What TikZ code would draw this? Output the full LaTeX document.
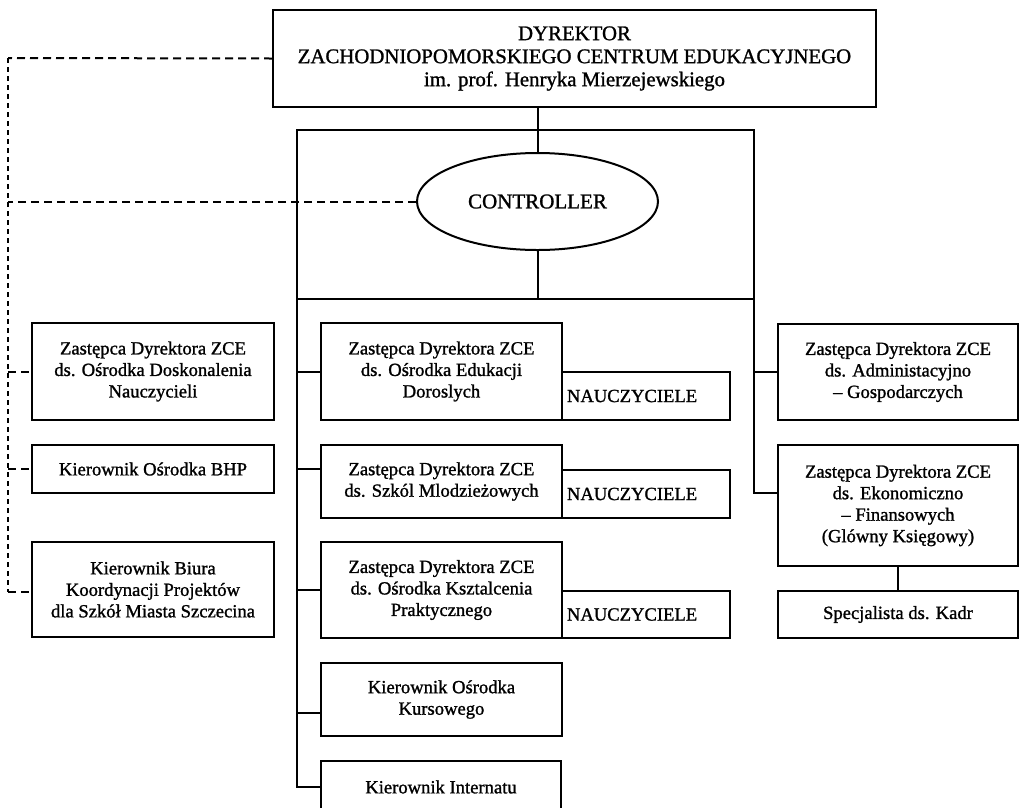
\documentclass[tikz,border=0pt]{standalone}
\usepackage{fontspec}
\setmainfont{Liberation Serif}
\newfontfamily\scanfont{Liberation Serif}[FakeBold=1.2]
\usetikzlibrary{shapes.geometric}
\begin{document}
\begin{tikzpicture}[x=1pt,y=-1pt,
  box/.style={draw, line width=2pt, align=center, inner sep=0pt,
    font=\scanfont\fontsize{18.6}{21.5}\selectfont},
  topbox/.style={box, font=\scanfont\fontsize{20.8}{23}\selectfont},
  nbox/.style={draw, line width=2pt, align=left, inner xsep=5pt, inner ysep=0pt,
    text width=158pt, minimum width=168pt,
    font=\scanfont\fontsize{18.6}{21.5}\selectfont},
  conn/.style={line width=2pt},
  dashh/.style={line width=2pt, dash pattern=on 8pt off 5pt},
  dashv/.style={line width=2pt, dash pattern=on 5pt off 4pt}]
\useasboundingbox (0,0) rectangle (1021,807);

% top
\node[topbox, minimum width=603pt, minimum height=97pt] (dyr) at (574.5,58.5)
  {DYREKTOR\\ZACHODNIOPOMORSKIEGO CENTRUM EDUKACYJNEGO\\im. prof. Henryka Mierzejewskiego};
\node[draw, ellipse, line width=2pt, minimum width=241pt, minimum height=97pt, inner sep=0pt,
  font=\scanfont\fontsize{21}{23}\selectfont] (ctrl) at (537.5,201.5) {CONTROLLER};

% frame
\coordinate (fTL) at (297,130);
\coordinate (fTR) at (754,130);
\coordinate (fBL) at (297,299);
\coordinate (fBR) at (754,299);
\draw[conn] (fTL) rectangle (fBR);

% left boxes
\node[box, minimum width=242pt, minimum height=97pt] (l1) at (153,371.5)
  {Zastępca Dyrektora ZCE\\ds. Ośrodka Doskonalenia\\Nauczycieli};
\node[box, minimum width=242pt, minimum height=48pt] (l2) at (153,469)
  {Kierownik Ośrodka BHP};
\node[box, minimum width=242pt, minimum height=95pt] (l3) at (153,589.5)
  {Kierownik Biura\\Koordynacji Projektów\\dla Szkół Miasta Szczecina};

% middle boxes
\node[box, minimum width=241pt, minimum height=97pt] (m1) at (441.5,371.5)
  {Zastępca Dyrektora ZCE\\ds. Ośrodka Edukacji\\Doroslych};
\node[box, minimum width=241pt, minimum height=73pt] (m2) at (441.5,481.5)
  {Zastępca Dyrektora ZCE\\ds. Szkól Mlodzieżowych};
\node[box, minimum width=241pt, minimum height=96pt] (m3) at (441.5,590)
  {Zastępca Dyrektora ZCE\\ds. Ośrodka Ksztalcenia\\Praktycznego};
\node[box, minimum width=241pt, minimum height=73pt] (m4) at (441.5,699.5)
  {Kierownik Ośrodka\\Kursowego};
\node[box, minimum width=240pt, minimum height=52pt] (m5) at (441,787)
  {Kierownik Internatu};

\node[nbox, minimum height=48pt] (n1) at (646,396) {NAUCZYCIELE};
\node[nbox, minimum height=48pt] (n2) at (646,494) {NAUCZYCIELE};
\node[nbox, minimum height=47pt] (n3) at (646,614.5) {NAUCZYCIELE};

% right boxes
\node[box, minimum width=240pt, minimum height=96pt] (r1) at (898,372)
  {Zastępca Dyrektora ZCE\\ds. Administacyjno\\– Gospodarczych};
\node[box, minimum width=240pt, minimum height=121pt] (r2) at (898,505.5)
  {Zastępca Dyrektora ZCE\\ds. Ekonomiczno\\– Finansowych\\(Glówny Księgowy)};
\node[box, minimum width=240pt, minimum height=47pt] (r3) at (898,614.5)
  {Specjalista ds. Kadr};

% solid connectors
\draw[conn] (dyr.south -| ctrl.north) -- (ctrl.north);
\draw[conn] (ctrl.south) -- (ctrl.south |- fBL);
\draw[conn] (fBL) |- (m5.west);
\draw[conn] (m1.west -| fBL) -- (m1.west);
\draw[conn] ([yshift=12.5pt]m2.west -| fBL) -- ([yshift=12.5pt]m2.west);
\draw[conn] (m3.west -| fBL) -- (m3.west);
\draw[conn] ([yshift=-13.5pt]m4.west -| fBL) -- ([yshift=-13.5pt]m4.west);
\draw[conn] (fBR) |- ([yshift=12.5pt]r2.west);
\draw[conn] (r1.west -| fBR) -- (r1.west);
\draw[conn] (r2.south) -- (r3.north);

% dashed connectors
\coordinate (dTop) at (8,58);
\coordinate (dBot) at (8,592);
\draw[dashh] (dyr.west) -- (dTop);
\draw[dashv] (dTop) -- (dBot);
\draw[dashh] (ctrl.west) -- (ctrl.west -| dTop);
\draw[dashh] (l1.west -| dTop) -- (l1.west);
\draw[dashh] (l2.west -| dTop) -- (l2.west);
\draw[dashh] (dBot) -- (dBot -| l3.west);
\end{tikzpicture}
\end{document}
